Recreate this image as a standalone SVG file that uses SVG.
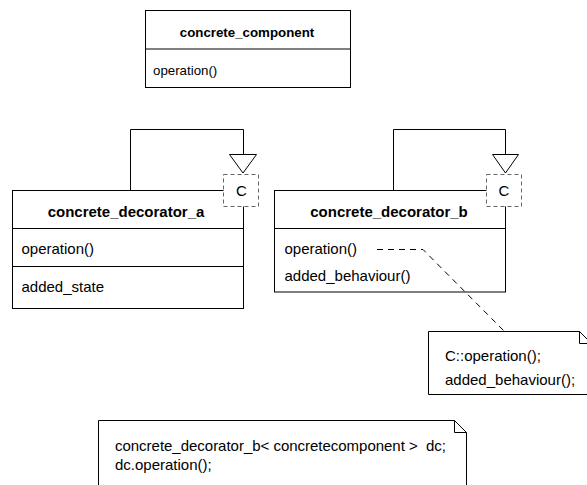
<svg xmlns="http://www.w3.org/2000/svg" width="587" height="485" viewBox="0 0 587 485">
<style>
text{font-family:"Liberation Sans",Arial,sans-serif;font-size:15px;fill:#000;white-space:pre}
.s{font-size:13.3px}
.t{font-weight:bold;text-anchor:middle}
.box{fill:#fff;stroke:#000;stroke-width:1}
.ln{fill:none;stroke:#000;stroke-width:1}
.tpl{fill:#fff;stroke:#666;stroke-width:1;stroke-dasharray:4,3}
.tri{fill:#fff;stroke:#000;stroke-width:1}
.dash{fill:none;stroke:#000;stroke-width:1;stroke-dasharray:6,5}
</style>
<rect width="587" height="485" fill="#fff"/>
<g id="concrete_component">
<rect class="box" x="145.5" y="10.5" width="205" height="77"/>
<line class="ln" x1="145" y1="49" x2="351" y2="49"/>
<text class="t s" x="247" y="36.5">concrete_component</text>
<text class="s" x="153" y="75">operation()</text>
</g>
<g id="concrete_decorator_a">
<rect class="box" x="12.5" y="190.5" width="231" height="118"/>
<line class="ln" x1="12" y1="228.5" x2="244" y2="228.5"/>
<line class="ln" x1="12" y1="266.5" x2="244" y2="266.5"/>
<text class="t" x="126" y="217">concrete_decorator_a</text>
<text x="21.5" y="254">operation()</text>
<text x="21.5" y="292">added_state</text>
</g>
<g id="concrete_decorator_b">
<rect class="box" x="274.5" y="190.5" width="231" height="101.5"/>
<line class="ln" x1="274" y1="228.5" x2="506" y2="228.5"/>
<text class="t" x="389" y="217">concrete_decorator_b</text>
<text x="284.5" y="254">operation()</text>
<text x="284.5" y="281">added_behaviour()</text>
</g>
<g id="note_b">
<path class="box" d="M428.5 331.5 H579.5 L591.5 343.5 V394.5 H428.5 Z"/>
<path class="ln" d="M579.5 331.5 V343.5 H591.5"/>
<text x="445" y="360.5">C::operation();</text>
<text x="445" y="384.5">added_behaviour();</text>
</g>
<g id="note_usage">
<path class="box" d="M98.5 490 V420.5 H454.5 L466.5 432.5 V490"/>
<path class="ln" d="M454.5 420.5 V432.5 H466.5"/>
<text x="115" y="450.5" textLength="331" lengthAdjust="spacing">concrete_decorator_b&lt; concretecomponent &gt;  dc;</text>
<text x="115" y="470">dc.operation();</text>
</g>
<g id="connectors">
<path class="ln" d="M130.5 190 V129.5 H243.5 V155"/>
<path class="ln" d="M393.5 190 V129.5 H505.5 V155"/>
<path class="dash" d="M377 249.5 H423 L504 331"/>
</g>
<g id="template_a">
<polygon class="tri" points="229.5,154.5 256.5,154.5 243,173"/>
<rect class="tpl" x="223.5" y="174.5" width="35" height="32"/>
<text x="241.5" y="195.5" text-anchor="middle">C</text>
</g>
<g id="template_b">
<polygon class="tri" points="492.5,154.5 518.5,154.5 505.5,173"/>
<rect class="tpl" x="486.5" y="174.5" width="35" height="32"/>
<text x="504" y="195.5" text-anchor="middle">C</text>
</g>
</svg>
